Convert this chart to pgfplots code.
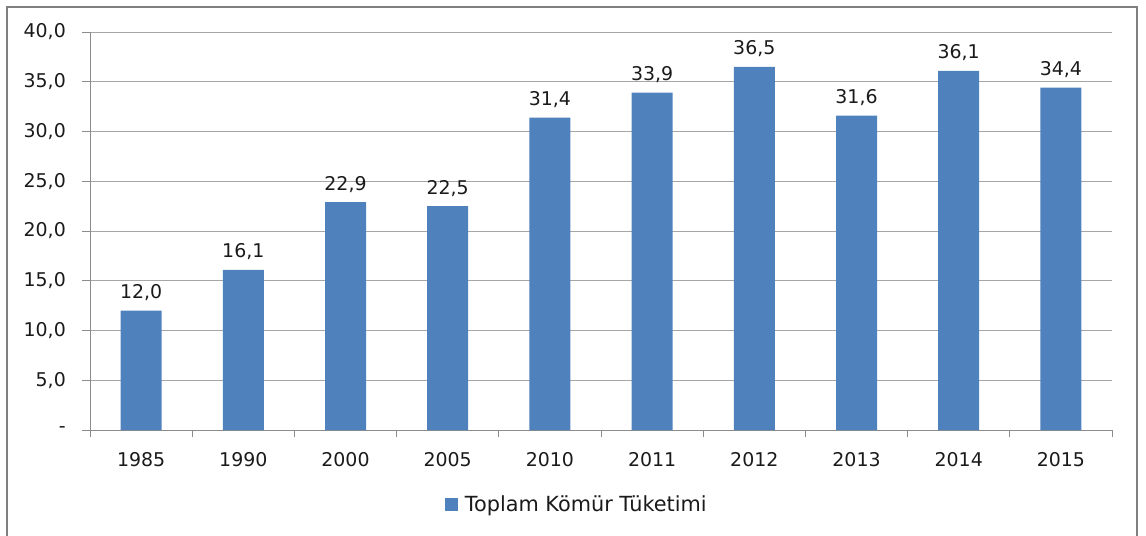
\documentclass[border=0pt]{standalone}
\usepackage{pgfplots}
\pgfplotsset{compat=1.18}
\usepackage{fontspec}
\setmainfont{DejaVu Sans}
\definecolor{barblue}{HTML}{4F81BD}
\definecolor{gridgray}{HTML}{A6A6A6}
\definecolor{axgray}{HTML}{8C8C8C}
\definecolor{framegray}{HTML}{7F7F7F}
\definecolor{txt}{HTML}{1A1A1A}
\newcommand{\cf}{\fontsize{19}{22}\selectfont}
\newcommand{\lf}{\fontsize{20.9}{24}\selectfont}
\begin{document}
\begin{tikzpicture}
\useasboundingbox (0bp,0bp) rectangle (1146bp,-536bp);
\draw[framegray, line width=2bp] (7bp,-7bp) rectangle (1137bp,-560bp);
\begin{axis}[
  at={(90bp,-430bp)}, anchor=south west,
  scale only axis, width=1022bp, height=398bp,
  ymin=0, ymax=40, xmin=-0.5, xmax=9.5,
  axis lines*=left,
  axis line style={axgray, line width=1bp},
  ytick={0,5,...,40},
  yticklabels={{-},{5,0},{10,0},{15,0},{20,0},{25,0},{30,0},{35,0},{40,0}},
  xtick={0,...,9},
  xticklabels={1985,1990,2000,2005,2010,2011,2012,2013,2014,2015},
  minor xtick={-0.5,0.5,...,9.5},
  major x tick style={draw=none},
  tick align=outside,
  major tick length=8bp, minor tick length=7bp,
  tick style={axgray, line width=1bp},
  ymajorgrids, grid style={gridgray, line width=1bp},
  yticklabel style={anchor=east, inner sep=0pt, xshift=-16bp, font=\cf, text=txt},
  xticklabel style={anchor=base, inner sep=0pt, yshift=-28bp, font=\cf, text=txt},
  ybar, bar width=41bp,
  nodes near coords={\pgfmathprintnumber[fixed,fixed zerofill,precision=1,use comma,assume math mode=true]{\pgfplotspointmeta}},
  every node near coord/.append style={anchor=base, inner sep=0pt, yshift=12bp, font=\cf, text=txt},
  legend style={at={(axis description cs:0.347,-0.188)}, anchor=west, draw=none, fill=none, inner sep=0pt, font=\lf, text=txt},
  clip=false,
]
\addplot[fill=barblue, draw=none, legend image code/.code={\fill[barblue] (0bp,-6.5bp) rectangle (13bp,6.5bp);}]
  coordinates {(0,12.0) (1,16.1) (2,22.9) (3,22.5) (4,31.4) (5,33.9) (6,36.5) (7,31.6) (8,36.1) (9,34.4)};
\addlegendentry{\hspace{5bp}Toplam Kömür Tüketimi}
\end{axis}
\end{tikzpicture}
\end{document}
